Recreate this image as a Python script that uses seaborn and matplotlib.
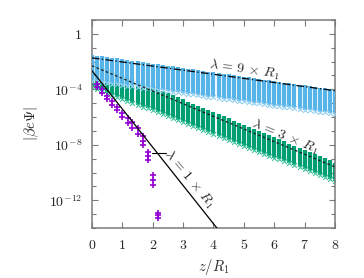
import numpy as np
import seaborn as sns
import matplotlib
matplotlib.use("Agg")
import matplotlib.pyplot as plt
from matplotlib.ticker import FixedLocator, NullFormatter

# columnas de la simulación (z / R1) y bordes de cada banda en log10
z_cols = [k / 6 for k in range(49)]

blue_top = [-1.51, -1.56, -1.62, -1.67, -1.72, -1.77, -1.83, -1.88, -1.93, -1.98,
            -2.04, -2.09, -2.14, -2.19, -2.25, -2.30, -2.35, -2.40, -2.46, -2.51,
            -2.56, -2.61, -2.67, -2.72, -2.77, -2.82, -2.88, -2.93, -2.98, -3.03,
            -3.09, -3.14, -3.19, -3.24, -3.30, -3.35, -3.40, -3.45, -3.51, -3.56,
            -3.61, -3.66, -3.72, -3.77, -3.82, -3.87, -3.93, -3.98, -4.03]
blue_bot = [-3.38, -3.43, -3.48, -3.53, -3.58, -3.63, -3.68, -3.73, -3.78, -3.83,
            -3.88, -3.93, -3.98, -4.02, -4.07, -4.12, -4.17, -4.22, -4.27, -4.32,
            -4.37, -4.42, -4.47, -4.52, -4.57, -4.62, -4.67, -4.72, -4.77, -4.82,
            -4.87, -4.92, -4.97, -5.02, -5.07, -5.12, -5.17, -5.22, -5.26, -5.31,
            -5.36, -5.41, -5.46, -5.51, -5.56, -5.61, -5.66, -5.71, -5.76]
green_top = [-2.00, -2.15, -2.30, -2.46, -2.61, -2.76, -2.91, -3.06, -3.21, -3.37,
             -3.52, -3.67, -3.82, -3.97, -4.12, -4.28, -4.43, -4.58, -4.73, -4.88,
             -5.03, -5.19, -5.34, -5.49, -5.64, -5.79, -5.94, -6.10, -6.25, -6.40,
             -6.55, -6.70, -6.85, -7.01, -7.16, -7.31, -7.46, -7.61, -7.76, -7.92,
             -8.07, -8.22, -8.37, -8.52, -8.67, -8.83, -8.98, -9.13, -9.28]
green_bot = [-3.82, -3.96, -4.10, -4.25, -4.39, -4.53, -4.67, -4.81, -4.95, -5.10,
             -5.24, -5.38, -5.52, -5.66, -5.80, -5.95, -6.09, -6.23, -6.37, -6.51,
             -6.65, -6.80, -6.94, -7.08, -7.22, -7.36, -7.50, -7.65, -7.79, -7.93,
             -8.07, -8.21, -8.35, -8.50, -8.64, -8.78, -8.92, -9.06, -9.20, -9.35,
             -9.49, -9.63, -9.77, -9.91, -10.05, -10.20, -10.34, -10.48, -10.62]

# lambda = 1 x R1 (puntos)
purple_z = [0.17, 0.17, 0.33, 0.33, 0.5, 0.5, 0.67, 0.67, 0.83, 0.83, 1.0, 1.0,
            1.17, 1.17, 1.33, 1.33, 1.5, 1.5, 1.67, 1.67, 1.67,
            1.83, 1.83, 1.83, 2.0, 2.0, 2.0, 2.17, 2.17, 2.17]
purple_log = [-3.6, -3.8, -4.0, -4.25, -4.45, -4.7, -4.85, -5.1, -5.25, -5.5, -5.7, -6.0,
              -6.1, -6.45, -6.35, -6.8, -6.8, -7.25, -7.4, -7.7, -8.0,
              -8.5, -8.8, -9.1, -10.2, -10.55, -10.9, -12.9, -13.1, -13.3]

# rectas teóricas (extremos, log10)
line9_z, line9_log = [0, 8], [-1.73, -4.10]
line3_z, line3_log = [0, 8], [-2.30, -9.60]
line1_z, line1_log = [0, 4.11], [-2.66, -14.0]

xticks = [0, 1, 2, 3, 4, 5, 6, 7, 8]
yticks = [1e0, 1e-4, 1e-8, 1e-12]
ytick_labels = [r'$1$', r'$10^{-4}$', r'$10^{-8}$', r'$10^{-12}$']

c_purple, c_green, c_blue = '#9400d3', '#009e73', '#56b4e9'

sns.set_theme(style='ticks')
plt.rcParams['mathtext.fontset'] = 'cm'
plt.rcParams['font.family'] = ['DejaVu Serif']

fig = plt.figure(figsize=(3.64, 2.78), dpi=100)
ax = fig.add_axes([0.2527, 0.180, 0.6676, 0.748])

p = lambda v: np.power(10.0, v)

# banda verde
ax.vlines(z_cols, p(green_bot), p(green_top), color=c_green, lw=3.0, zorder=2)
sns.scatterplot(x=z_cols, y=p(np.array(green_bot)), marker='x', color='#40c39c',
                s=12, linewidth=0.8, ax=ax, zorder=2)
# banda azul
ax.vlines(z_cols, p(blue_bot), p(blue_top), color=c_blue, lw=3.0, zorder=3)
sns.scatterplot(x=z_cols, y=p(np.array(blue_bot)), marker='x', color='#92d0f1',
                s=12, linewidth=0.8, ax=ax, zorder=3)
# puntos morados
sns.scatterplot(x=purple_z, y=p(np.array(purple_log)), marker='+', color=c_purple,
                s=18, linewidth=1.2, ax=ax, zorder=5)

# rectas
sns.lineplot(x=line9_z, y=p(np.array(line9_log)), color='black', lw=0.9, ax=ax, zorder=6)
ax.lines[-1].set_dashes([6, 2, 1, 2])
sns.lineplot(x=line3_z, y=p(np.array(line3_log)), color='#1a1a1a', lw=0.9, ax=ax, zorder=4)
ax.lines[-1].set_dashes([2, 2])
sns.lineplot(x=line1_z, y=p(np.array(line1_log)), color='black', lw=0.9, ax=ax, zorder=6)
ax.plot([1.97, 2.45], [p(-8.56), p(-8.56)], color='black', lw=0.8, zorder=6)

ax.set_yscale('log')
ax.set_xlim(0, 8)
ax.set_ylim(1e-14, 10)

ax.text(5.03, p(-2.55), r'$\lambda\, =\, 9\, \times\, R_1$', rotation=-7.7, fontsize=10,
        ha='center', va='center', zorder=7)
ax.text(6.35, p(-7.41), r'$\lambda\, =\, 3\, \times\, R_1$', rotation=-22, fontsize=10,
        ha='center', va='center', zorder=7)
ax.text(3.2, p(-10.5), r'$\lambda\, =\, 1\, \times\, R_1$', rotation=-50, fontsize=10,
        ha='center', va='center', zorder=7)

ax.xaxis.set_major_locator(FixedLocator(xticks))
ax.set_xticklabels([rf'${t}$' for t in xticks])
ax.yaxis.set_major_locator(FixedLocator(yticks))
ax.set_yticklabels(ytick_labels)
ax.yaxis.set_minor_locator(FixedLocator([p(-k) for k in range(-1, 15)]))
ax.yaxis.set_minor_formatter(NullFormatter())

for s in ax.spines.values():
    s.set_visible(True)
    s.set_color('#7a7a7a')
    s.set_linewidth(1.1)
ax.tick_params(which='both', direction='in', top=True, right=True, color='#7a7a7a',
               labelsize=10)
ax.tick_params(which='major', length=4, width=0.8, pad=7)
ax.tick_params(which='minor', length=3, width=0.8)

ax.set_xlabel(r'$z/R_1$', fontsize=10.5, labelpad=4)
ax.set_ylabel(r'$|\beta e \Psi|$', fontsize=10.5, labelpad=6)

fig.savefig('out.png', dpi=100)
